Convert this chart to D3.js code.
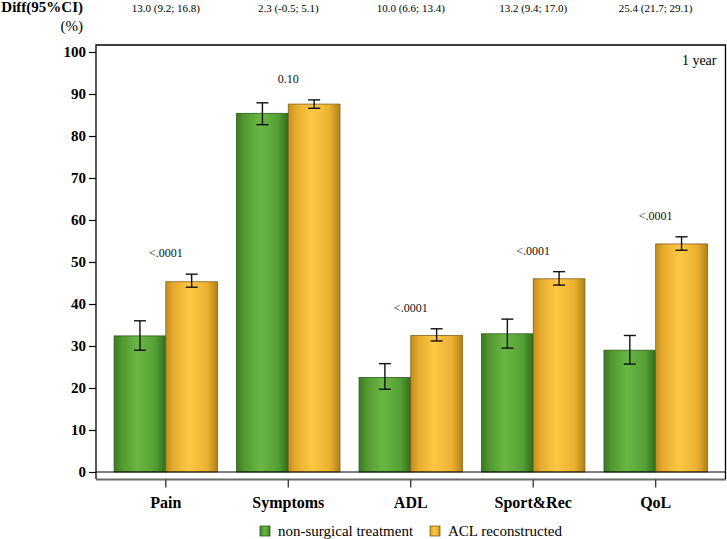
<!DOCTYPE html>
<html>
<head>
<meta charset="utf-8">
<script src="https://cdn.jsdelivr.net/npm/d3@7"></script>
<style>
  body { margin: 0; background: #fff; }
  svg { display: block; }
</style>
</head>
<body>
<div id="chart"></div>
<script>
// KOOS subscales at 1 year
var categories = ["Pain", "Symptoms", "ADL", "Sport&Rec", "QoL"];
var series = ["non-surgical treatment", "ACL reconstructed"];

var nonSurgMean = [32.4, 85.4, 22.5, 32.9, 29.0];
var nonSurgLow  = [29.0, 82.7, 19.7, 29.5, 25.7];
var nonSurgHigh = [36.0, 87.9, 25.8, 36.4, 32.5];

var aclMean = [45.3, 87.6, 32.5, 46.0, 54.3];
var aclLow  = [44.0, 86.6, 31.2, 44.5, 52.8];
var aclHigh = [47.1, 88.6, 34.1, 47.7, 56.0];

var pValues = ["<.0001", "0.10", "<.0001", "<.0001", "<.0001"];
var diffLabels = ["13.0 (9.2; 16.8)", "2.3 (-0.5; 5.1)", "10.0 (6.6; 13.4)", "13.2 (9.4; 17.0)", "25.4 (21.7; 29.1)"];
var yTicks = [0, 10, 20, 30, 40, 50, 60, 70, 80, 90, 100];

var serif = "Liberation Serif, Times New Roman, serif";
var width = 727, height = 539;
var plotL = 96, plotR = 725.5, plotT = 45, plotB = 479;

var svg = d3.select("#chart").append("svg")
    .attr("width", width)
    .attr("height", height)
    .attr("font-family", serif);

var defs = svg.append("defs");
function gradient(id, stops) {
  var g = defs.append("linearGradient").attr("id", id)
      .attr("x1", "0%").attr("x2", "100%").attr("y1", "0%").attr("y2", "0%");
  stops.forEach(function(s) {
    g.append("stop").attr("offset", s[0]).attr("stop-color", s[1]);
  });
}
gradient("gGreen", [[0, "#3b7a22"], [0.15, "#52992f"], [0.45, "#6ab644"], [0.8, "#55a035"], [1, "#326d1b"]]);
gradient("gOrange", [[0, "#c48d1c"], [0.15, "#e6ab2f"], [0.45, "#ffc742"], [0.8, "#ebb032"], [1, "#b48114"]]);

var fills = ["url(#gGreen)", "url(#gOrange)"];
var strokes = ["#2d5c1a", "#82621a"];

var x = d3.scaleBand().domain(categories).range([plotL, plotR]).paddingInner(0).paddingOuter(0.07);
var x1 = d3.scaleBand().domain(series).range([0, x.bandwidth()]).paddingInner(0).paddingOuter(0.184);
var y = d3.scaleLinear().domain([0, 100]).range([472, 52]);

var rows = categories.map(function(c, i) {
  return {
    cat: c, p: pValues[i], diff: diffLabels[i],
    bars: [
      { s: series[0], k: 0, v: nonSurgMean[i], lo: nonSurgLow[i], hi: nonSurgHigh[i] },
      { s: series[1], k: 1, v: aclMean[i], lo: aclLow[i], hi: aclHigh[i] }
    ]
  };
});

// bottom axis line (grey)
svg.append("line")
    .attr("x1", plotL).attr("x2", plotR + 0.5)
    .attr("y1", plotB + 0.5).attr("y2", plotB + 0.5)
    .attr("stroke", "#6b6b6b").attr("stroke-width", 2);

// bars
var groups = svg.selectAll(".grp").data(rows).enter().append("g")
    .attr("transform", function(d) { return "translate(" + x(d.cat) + ",0)"; });

groups.selectAll("rect").data(function(d) { return d.bars; }).enter().append("rect")
    .attr("x", function(d) { return x1(d.s); })
    .attr("y", function(d) { return y(d.v); })
    .attr("width", x1.bandwidth())
    .attr("height", function(d) { return y(0) - y(d.v); })
    .attr("fill", function(d) { return fills[d.k]; })
    .attr("stroke", function(d) { return strokes[d.k]; })
    .attr("stroke-width", 0.8);

// error bars
var capW = 12;
var err = groups.selectAll(".err").data(function(d) { return d.bars; }).enter().append("g")
    .attr("stroke", "#111").attr("stroke-width", 1.4).attr("fill", "none");
err.append("line")
    .attr("x1", function(d) { return x1(d.s) + x1.bandwidth() / 2; })
    .attr("x2", function(d) { return x1(d.s) + x1.bandwidth() / 2; })
    .attr("y1", function(d) { return y(d.lo); })
    .attr("y2", function(d) { return y(d.hi); });
["lo", "hi"].forEach(function(k) {
  err.append("line")
      .attr("x1", function(d) { return x1(d.s) + x1.bandwidth() / 2 - capW / 2; })
      .attr("x2", function(d) { return x1(d.s) + x1.bandwidth() / 2 + capW / 2; })
      .attr("y1", function(d) { return y(d[k]); })
      .attr("y2", function(d) { return y(d[k]); });
});

// p-values
groups.append("text")
    .attr("x", x.bandwidth() / 2)
    .attr("y", function(d) { return y(d3.max(d.bars, function(b) { return b.hi; })) - 17; })
    .attr("text-anchor", "middle")
    .attr("font-size", 12)
    .attr("fill", "#111")
    .text(function(d) { return d.p; });

// zero line
svg.append("line")
    .attr("x1", plotL).attr("x2", plotR)
    .attr("y1", y(0)).attr("y2", y(0))
    .attr("stroke", "#000").attr("stroke-width", 1.2);

// frame
svg.append("path")
    .attr("d", "M" + plotL + "," + plotB + "V" + plotT + "H" + plotR + "V" + plotB)
    .attr("fill", "none").attr("stroke", "#000").attr("stroke-width", 1.3);

// y axis
var yAxis = svg.append("g")
    .attr("transform", "translate(" + plotL + ",0)")
    .call(d3.axisLeft(y).tickValues(yTicks).tickSize(7).tickPadding(3));
yAxis.attr("font-family", serif);
yAxis.select(".domain").remove();
yAxis.selectAll("line").attr("stroke", "#000").attr("stroke-width", 1.2);
yAxis.selectAll("text")
    .attr("font-size", 15).attr("font-weight", "bold").attr("fill", "#000");

// x axis
var xAxis = svg.append("g")
    .attr("transform", "translate(0," + (plotB + 0.5) + ")")
    .call(d3.axisBottom(x).tickSize(8).tickPadding(9));
xAxis.attr("font-family", serif);
xAxis.select(".domain").remove();
xAxis.selectAll("line").attr("stroke", "#333").attr("stroke-width", 1.3);
xAxis.selectAll("text")
    .attr("font-size", 16).attr("font-weight", "bold").attr("fill", "#000");

// header texts
svg.append("text").attr("x", 83).attr("y", 12)
    .attr("text-anchor", "end").attr("font-size", 15).attr("font-weight", "bold")
    .text("Diff(95%CI)");
svg.append("text").attr("x", 83).attr("y", 31)
    .attr("text-anchor", "end").attr("font-size", 15)
    .text("(%)");
svg.selectAll(".diff").data(rows).enter().append("text")
    .attr("x", function(d) { return x(d.cat) + x.bandwidth() / 2; })
    .attr("y", 12)
    .attr("text-anchor", "middle")
    .attr("font-size", 11)
    .text(function(d) { return d.diff; });

svg.append("text").attr("x", plotR - 9).attr("y", 65)
    .attr("text-anchor", "end").attr("font-size", 14)
    .text("1 year");

// legend
var legendX = [260, 430];
var leg = svg.selectAll(".leg").data(series).enter().append("g")
    .attr("transform", function(d, i) { return "translate(" + legendX[i] + ",526)"; });
leg.append("rect")
    .attr("width", 10).attr("height", 10)
    .attr("fill", function(d, i) { return fills[i]; })
    .attr("stroke", function(d, i) { return strokes[i]; })
    .attr("stroke-width", 0.8);
leg.append("text")
    .attr("x", 18).attr("y", 10)
    .attr("font-size", 15)
    .text(function(d) { return d; });
</script>
</body>
</html>
